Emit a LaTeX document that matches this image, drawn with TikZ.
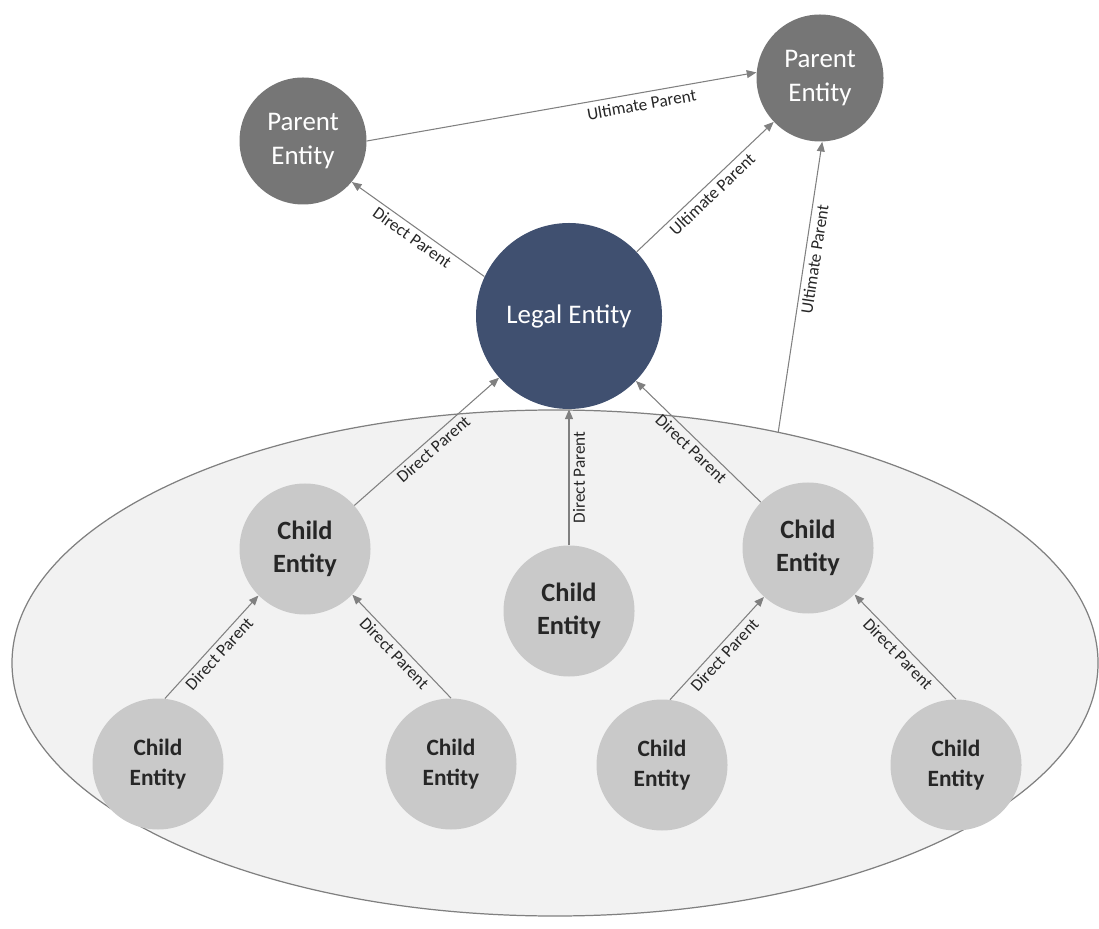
\documentclass[tikz,border=0pt]{standalone}
\usepackage{fontspec}
\setmainfont{Carlito}
\usetikzlibrary{arrows.meta,shapes.geometric}
\definecolor{parentgray}{RGB}{118,118,118}
\definecolor{legalblue}{RGB}{64,80,112}
\definecolor{childgray}{RGB}{201,201,201}
\definecolor{groupfill}{RGB}{242,242,242}
\definecolor{linegray}{RGB}{128,128,128}
\definecolor{labelblack}{RGB}{38,38,38}

\begin{document}
\begin{tikzpicture}
    \useasboundingbox (0,0) rectangle (21.98,18.56);
    \node[ellipse,draw=linegray,line width=0.7pt,fill=groupfill,inner sep=0pt,
        minimum width=21.72cm,minimum height=10.12cm] (grp) at (11.10,5.30) {};
    \begin{scope}[every node/.style={circle,fill=parentgray,text=white,inner sep=0pt,
        minimum size=2.54cm,align=center,font=\fontsize{15.3}{19.3}\selectfont}]
        \node (pl) at (6.06,15.74) {Parent\\Entity};
        \node (pr) at (16.40,17.00) {Parent\\Entity};
        \node[fill=legalblue,minimum size=3.72cm] (le) at (11.38,12.24) {Legal Entity};
    \end{scope}
    \begin{scope}[every node/.style={circle,fill=childgray,text=labelblack,inner sep=0pt,
        minimum size=2.62cm,align=center,font=\bfseries\fontsize{13.3}{17}\selectfont}]
        \node[font=\bfseries\fontsize{15}{18.7}\selectfont] (cl) at (6.10,7.58) {Child\\Entity};
        \node[font=\bfseries\fontsize{15}{18.7}\selectfont] (cc) at (11.38,6.34) {Child\\Entity};
        \node[font=\bfseries\fontsize{15}{18.7}\selectfont] (cr) at (16.16,7.60) {Child\\Entity};
        \node (ll) at (3.16,3.28) {Child\\Entity};
        \node (lr) at (9.02,3.28) {Child\\Entity};
        \node (rl) at (13.24,3.26) {Child\\Entity};
        \node (rr) at (19.12,3.26) {Child\\Entity};
    \end{scope}
    \begin{scope}[
        every node/.style={sloped,below,inner sep=2pt,text=labelblack,font=\fontsize{9.8}{11}\selectfont},
        every edge/.style={-{Triangle[length=5.5pt,width=4.5pt]},draw=linegray,line width=0.6pt}]
        \path[->] (le.155) edge node {Direct Parent} (pl.-40);
        \path[->] (pl.east) edge node[pos=0.7,inner sep=3pt] {Ultimate Parent} (pr.175);
        \path[->] (le) edge node {Ultimate Parent} (pr);
        \path[->] (grp.46) edge node[pos=0.6] {Ultimate Parent} (pr.-88);
        \path[->] (cl) edge node {Direct Parent} (le);
        \path[->] (cc) edge node {Direct Parent} (le);
        \path[->] (cr) edge node {Direct Parent} (le);
        \path[->] (ll.84) edge node {Direct Parent} (cl.225);
        \path[->] (lr.north) edge node {Direct Parent} (cl.-44);
        \path[->] (rl.83) edge node {Direct Parent} (cr.228);
        \path[->] (rr.north) edge node {Direct Parent} (cr.-45);
    \end{scope}
\end{tikzpicture}
\end{document}
